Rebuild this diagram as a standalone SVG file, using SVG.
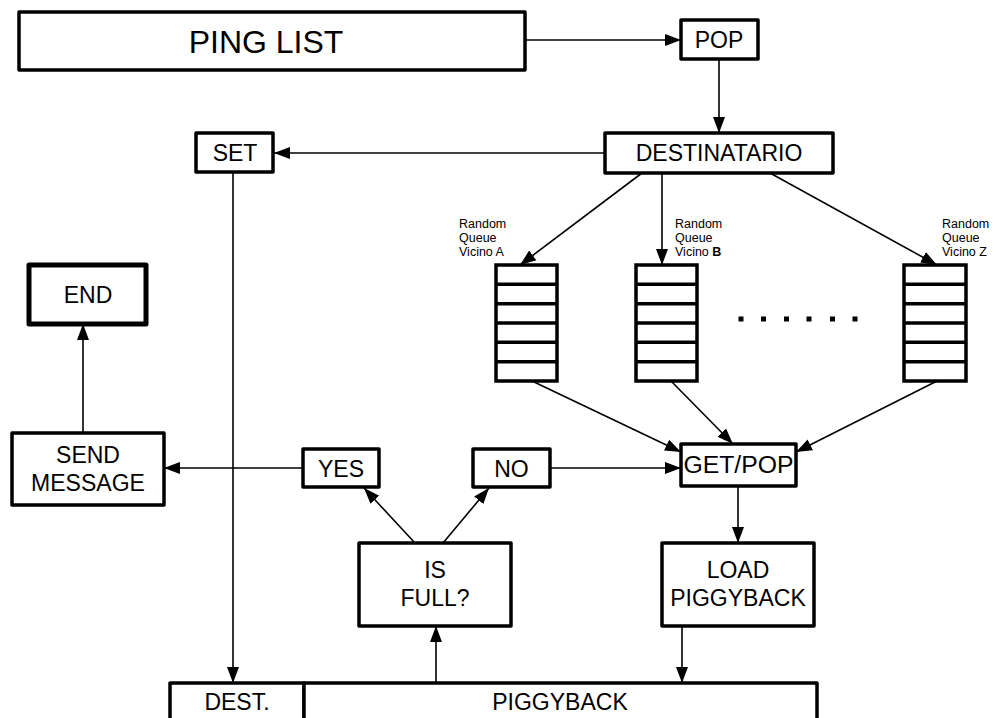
<svg xmlns="http://www.w3.org/2000/svg" width="999" height="718" viewBox="0 0 999 718">
<style>
.box{fill:#fff;stroke:#000;stroke-width:3.5;stroke-linejoin:round}
.thick{stroke-width:5}
.q{fill:#fff;stroke:#000;stroke-width:3.5}
.ql{stroke:#000;stroke-width:3.5}
.t{font-family:"Liberation Sans",Arial,sans-serif;font-size:23px;fill:#000;text-anchor:middle}
.big{font-size:32px}
.s{font-family:"Liberation Sans",Arial,sans-serif;font-size:12.5px;fill:#000}
.c{fill:none;stroke:#000;stroke-width:1.6}
</style>
<defs>
<marker id="ah" markerUnits="userSpaceOnUse" markerWidth="16" markerHeight="14" refX="16" refY="6" orient="auto" viewBox="0 0 16 12">
<path d="M0,0 L16,6 L0,12 z" fill="#000"/>
</marker>
</defs>
<rect width="999" height="718" fill="#fff"/>
<g id="connectors">
<path class="c" d="M525,40 L681,40" marker-end="url(#ah)"/>
<path class="c" d="M719,59 L719,133" marker-end="url(#ah)"/>
<path class="c" d="M605,153 L274,153" marker-end="url(#ah)"/>
<path class="c" d="M642,173 L520,265" marker-end="url(#ah)"/>
<path class="c" d="M662,173 L662,265" marker-end="url(#ah)"/>
<path class="c" d="M770,173 L937,265" marker-end="url(#ah)"/>
<path class="c" d="M532,381 L681,452" marker-end="url(#ah)"/>
<path class="c" d="M671,381 L733,444" marker-end="url(#ah)"/>
<path class="c" d="M937,381 L796,452" marker-end="url(#ah)"/>
<path class="c" d="M738,486 L738,543" marker-end="url(#ah)"/>
<path class="c" d="M682,626 L682,683" marker-end="url(#ah)"/>
<path class="c" d="M436,683 L436,626" marker-end="url(#ah)"/>
<path class="c" d="M415,543 L364,488" marker-end="url(#ah)"/>
<path class="c" d="M443,543 L489,488" marker-end="url(#ah)"/>
<path class="c" d="M550,468 L681,468" marker-end="url(#ah)"/>
<path class="c" d="M303,468 L164,468" marker-end="url(#ah)"/>
<path class="c" d="M83,433 L83,324" marker-end="url(#ah)"/>
<path class="c" d="M233,172 L233,683" marker-end="url(#ah)"/>
</g>
<g id="ping-list">
<rect class="box" x="19" y="12" width="506" height="58"/>
<text class="t big" x="266" y="53">PING LIST</text>
</g>
<g id="pop">
<rect class="box" x="681" y="20" width="77" height="39"/>
<text class="t" x="719" y="48">POP</text>
</g>
<g id="destinatario">
<rect class="box" x="605" y="133" width="228" height="40"/>
<text class="t" x="719" y="161">DESTINATARIO</text>
</g>
<g id="set">
<rect class="box" x="196" y="133" width="77" height="39"/>
<text class="t" x="235" y="161">SET</text>
</g>
<g id="end">
<rect class="box thick" x="29" y="265" width="117" height="59"/>
<text class="t" x="88" y="303">END</text>
</g>
<g id="send-message">
<rect class="box" x="12" y="433" width="152" height="72"/>
<text class="t" x="88" y="463">SEND</text>
<text class="t" x="88" y="491">MESSAGE</text>
</g>
<g id="queue-a">
<rect class="q" x="496" y="265" width="61" height="116"/>
<path class="ql" d="M496,284.3H557M496,303.7H557M496,323H557M496,342.3H557M496,361.7H557"/>
<text class="s" x="459" y="228">Random</text>
<text class="s" x="459" y="242">Queue</text>
<text class="s" x="459" y="256">Vicino A</text>
</g>
<g id="queue-b">
<rect class="q" x="636" y="265" width="61" height="116"/>
<path class="ql" d="M636,284.3H697M636,303.7H697M636,323H697M636,342.3H697M636,361.7H697"/>
<text class="s" x="675" y="228">Random</text>
<text class="s" x="675" y="242">Queue</text>
<text class="s" x="675" y="256">Vicino <tspan font-weight="bold">B</tspan></text>
</g>
<g id="queue-z">
<rect class="q" x="904" y="265" width="62" height="116"/>
<path class="ql" d="M904,284.3H966M904,303.7H966M904,323H966M904,342.3H966M904,361.7H966"/>
<text class="s" x="942" y="228">Random</text>
<text class="s" x="942" y="242">Queue</text>
<text class="s" x="942" y="256">Vicino Z</text>
</g>
<g id="dots">
<rect x="738.5" y="316.5" width="5" height="5"/>
<rect x="761" y="316.5" width="5" height="5"/>
<rect x="784" y="316.5" width="5" height="5"/>
<rect x="806.5" y="316.5" width="5" height="5"/>
<rect x="830" y="316.5" width="5" height="5"/>
<rect x="852.5" y="316.5" width="5" height="5"/>
</g>
<g id="get-pop">
<rect class="box" x="681" y="444" width="115" height="42"/>
<text class="t" x="738.5" y="473" textLength="110" lengthAdjust="spacingAndGlyphs">GET/POP</text>
</g>
<g id="yes">
<rect class="box" x="303" y="449" width="76" height="38"/>
<text class="t" x="341" y="477">YES</text>
</g>
<g id="no">
<rect class="box" x="473" y="449" width="77" height="38"/>
<text class="t" x="511.5" y="477">NO</text>
</g>
<g id="is-full">
<rect class="box" x="359" y="543" width="152" height="83"/>
<text class="t" x="435" y="578">IS</text>
<text class="t" x="435" y="606">FULL?</text>
</g>
<g id="load-piggyback">
<rect class="box" x="662" y="543" width="152" height="83"/>
<text class="t" x="738" y="578">LOAD</text>
<text class="t" x="738" y="606">PIGGYBACK</text>
</g>
<g id="dest">
<rect class="box" x="170" y="683" width="134" height="45"/>
<text class="t" x="237" y="710">DEST.</text>
</g>
<g id="piggyback">
<rect class="box" x="304" y="683" width="513" height="45"/>
<text class="t" x="560" y="710">PIGGYBACK</text>
</g>
</svg>
